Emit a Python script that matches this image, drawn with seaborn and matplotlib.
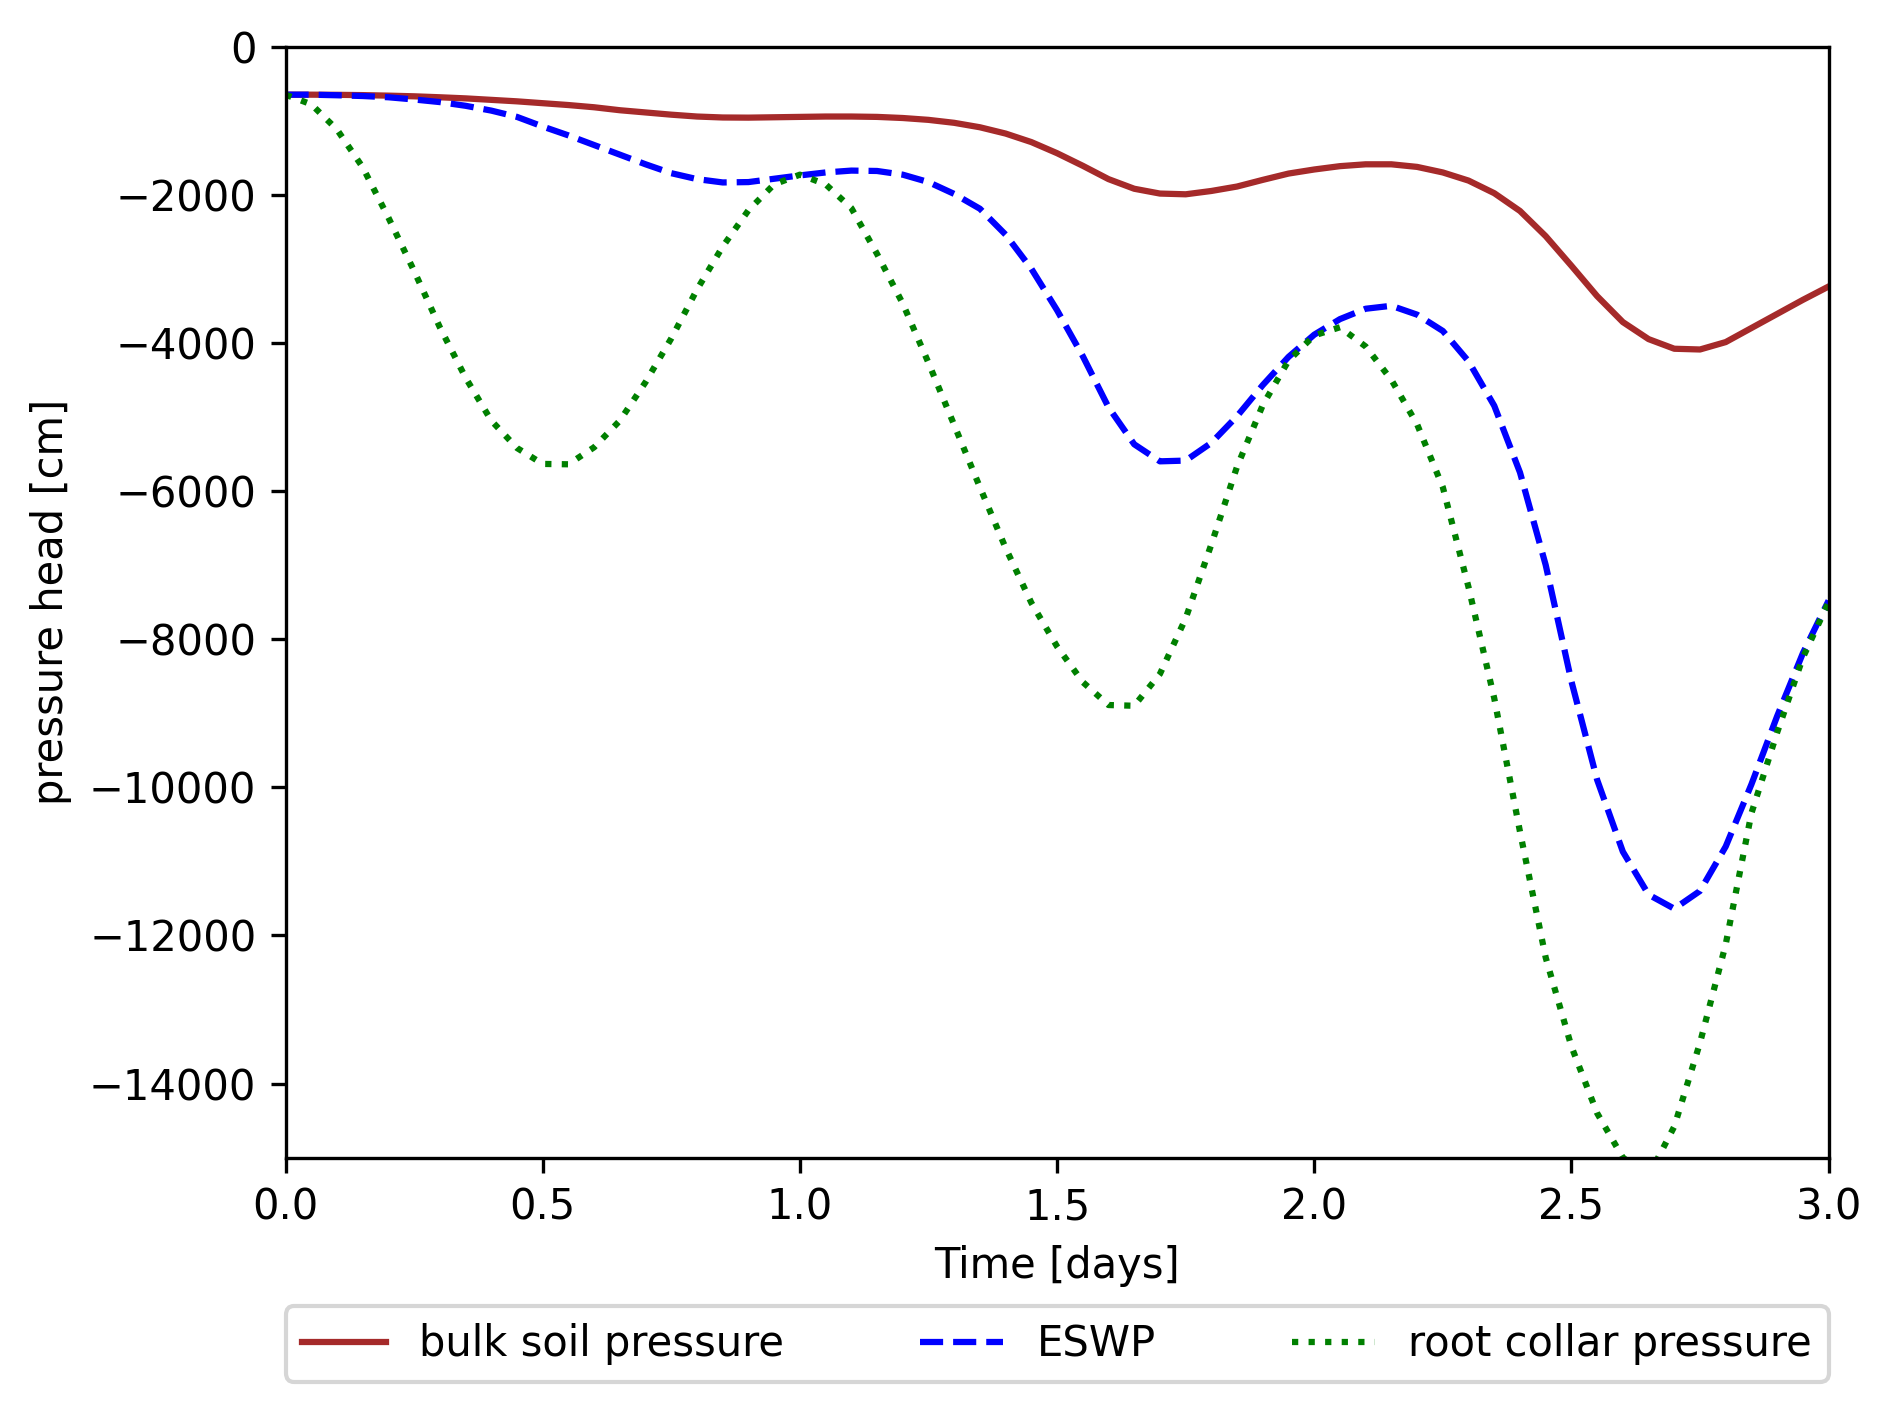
import matplotlib
matplotlib.use("Agg")
import matplotlib.pyplot as plt
import numpy as np
import pandas as pd
import seaborn as sns

# time axis (days), sampled every 0.05 d
time_days = np.round(np.arange(0, 3.0001, 0.05), 2)

bulk_soil = [
    -650, -650, -652, -656, -663, -672, -685, -700, -720, -740,
    -765, -790, -820, -860, -890, -920, -945, -958, -960, -955,
    -950, -945, -945, -950, -965, -990, -1030, -1090, -1175, -1290,
    -1440, -1610, -1790, -1920, -1985, -1995, -1950, -1890, -1800, -1715,
    -1660, -1615, -1590, -1590, -1625, -1700, -1810, -1980, -2220, -2560,
    -2960, -3370, -3720, -3950, -4080, -4090, -3990, -3800, -3610, -3420,
    -3240,
]

eswp = [
    -650, -650, -658, -668, -685, -715, -750, -800, -865, -950,
    -1080, -1200, -1330, -1460, -1590, -1710, -1790, -1835, -1830, -1785,
    -1740, -1700, -1675, -1680, -1730, -1830, -1990, -2190, -2540, -3000,
    -3560, -4180, -4870, -5370, -5600, -5590, -5350, -4990, -4570, -4190,
    -3890, -3680, -3540, -3500, -3620, -3840, -4250, -4850, -5750, -7000,
    -8570, -9900, -10870, -11450, -11640, -11400, -10800, -9960, -9040, -8190,
    -7480,
]

root_collar = [
    -650, -780, -1120, -1630, -2310, -3030, -3790, -4470, -5050, -5420,
    -5635, -5640, -5410, -5050, -4530, -3940, -3280, -2700, -2210, -1860,
    -1730, -1860, -2180, -2800, -3470, -4270, -5110, -5950, -6770, -7510,
    -8100, -8580, -8890, -8900, -8470, -7720, -6720, -5670, -4840, -4240,
    -3900, -3790, -4050, -4500, -5100, -5950, -7300, -8800, -10600, -12300,
    -13500, -14400, -15000, -15250, -14580, -13450, -12120, -10350, -9260, -8250,
    -7500,
]

series_names = ["bulk soil pressure", "ESWP", "root collar pressure"]
series_colors = ["brown", "blue", "green"]
series_styles = ["-", "--", ":"]

df = pd.DataFrame({
    "time": time_days,
    "bulk soil pressure": bulk_soil,
    "ESWP": eswp,
    "root collar pressure": root_collar,
})

fig = plt.figure(figsize=(1891 / 300, 1410 / 300), dpi=300)
ax = fig.add_axes([0.151, 0.179, 0.816, 0.788])

for name, col, ls in zip(series_names, series_colors, series_styles):
    sns.lineplot(data=df, x="time", y=name, color=col, linestyle=ls,
                 linewidth=1.5, label=name, ax=ax)

ax.set_xlim(0, 3)
ax.set_ylim(-15000, 0)
ax.set_xlabel("Time [days]")
ax.set_ylabel("pressure head [cm]")
ax.legend(bbox_to_anchor=(0, -0.134, 1, 0), loc="upper left", ncol=3,
          mode="expand", borderaxespad=0)

fig.savefig("out.png", dpi=300)
